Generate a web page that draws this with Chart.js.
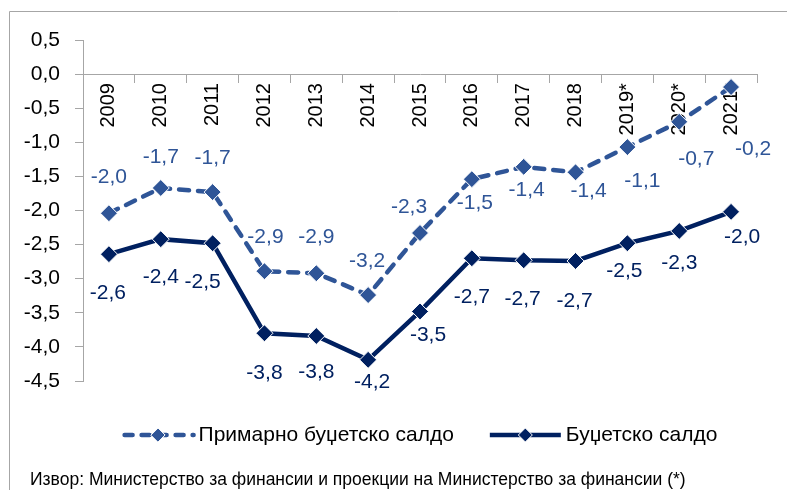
<!DOCTYPE html>
<html>
<head>
<meta charset="utf-8">
<script src="https://cdn.jsdelivr.net/npm/chart.js@4/dist/chart.umd.min.js"></script>
<style>
  html, body { margin: 0; padding: 0; background: #ffffff; }
  #wrap { width: 787px; height: 490px; position: relative; }
</style>
</head>
<body>
<div id="wrap"><canvas id="c" width="787" height="490"></canvas></div>
<script>
// ---- data ----
const categories = ['2009','2010','2011','2012','2013','2014','2015','2016','2017','2018','2019*','2020*','2021*'];
const primaryBalance = [-2.04, -1.67, -1.73, -2.89, -2.92, -3.24, -2.33, -1.54, -1.36, -1.44, -1.07, -0.70, -0.19];
const budgetBalance  = [-2.64, -2.42, -2.48, -3.80, -3.84, -4.19, -3.48, -2.70, -2.73, -2.74, -2.48, -2.30, -2.02];
const seriesNames = ['Примарно буџетско салдо', 'Буџетско салдо'];
const sourceNote = 'Извор: Министерство за финансии и проекции на Министерство за финансии (*)';
const yMin = -4.5, yMax = 0.5, yStep = 0.5;

// ---- styling ----
const FONT = "'Liberation Sans', Arial, sans-serif";
const C_PRIMARY = '#2F5597';
const C_BUDGET = '#002060';
const AXIS = '#A6A6A6';
// label offsets (px) relative to each point
const labelOffsets = [
  [[0,-36],[0,-31],[0,-34],[1,-34],[0,-36],[-1,-34],[-11,-26],[3,24],[3,23],[13,19],[15,34],[17,37],[22,62]],
  [[-1,39],[0,38],[-10,39],[0,40],[0,36],[4,22],[8,24],[0,39],[-1,39],[-1,40],[-3,28],[0,32],[11,25]]
];
const fmt = v => v.toFixed(1).replace('.', ',');

const frame = {
  id: 'frame',
  beforeDraw(chart) {
    const ctx = chart.ctx;
    ctx.save();
    ctx.strokeStyle = AXIS;
    ctx.lineWidth = 1;
    ctx.beginPath();
    ctx.moveTo(9.5, 490);
    ctx.lineTo(9.5, 11.5);
    ctx.lineTo(787, 11.5);
    ctx.stroke();
    ctx.restore();
  }
};

const valueLabels = {
  id: 'valueLabels',
  afterDatasetsDraw(chart) {
    const ctx = chart.ctx;
    ctx.save();
    ctx.font = '21px ' + FONT;
    ctx.textAlign = 'center';
    ctx.textBaseline = 'middle';
    chart.data.datasets.forEach((ds, di) => {
      const meta = chart.getDatasetMeta(di);
      ctx.fillStyle = ds.borderColor;
      meta.data.forEach((el, i) => {
        const off = labelOffsets[di][i];
        ctx.fillText(fmt(ds.data[i]), el.x + off[0], el.y + off[1]);
      });
    });
    ctx.restore();
  }
};

function drawSample(ctx, x0, y, w, color, dashed) {
  ctx.save();
  ctx.strokeStyle = color;
  ctx.lineWidth = 4.5;
  ctx.lineCap = dashed ? 'round' : 'butt';
  ctx.setLineDash(dashed ? [8, 9] : []);
  ctx.beginPath();
  ctx.moveTo(x0 + (dashed ? 2 : 0), y);
  ctx.lineTo(x0 + w, y);
  ctx.stroke();
  ctx.setLineDash([]);
  const cx = x0 + w / 2, r = 7;
  ctx.fillStyle = color;
  ctx.strokeStyle = '#ffffff';
  ctx.lineWidth = 1;
  ctx.beginPath();
  ctx.moveTo(cx - r, y); ctx.lineTo(cx, y - r); ctx.lineTo(cx + r, y); ctx.lineTo(cx, y + r);
  ctx.closePath();
  ctx.fill(); ctx.stroke();
  ctx.restore();
}

const customLegend = {
  id: 'customLegend',
  afterDraw(chart) {
    const ctx = chart.ctx;
    ctx.save();
    ctx.font = '21px ' + FONT;
    ctx.textBaseline = 'middle';
    ctx.fillStyle = '#000000';
    const sampleW = 71, gapIn = 5, gapOut = 36;
    const ds = chart.data.datasets;
    const w0 = ctx.measureText(ds[0].label).width;
    const w1 = ctx.measureText(ds[1].label).width;
    const total = sampleW + gapIn + w0 + gapOut + sampleW + gapIn + w1;
    const cx = (chart.chartArea.left + chart.chartArea.right) / 2;
    let x = cx - total / 2;
    const y = 435;
    drawSample(ctx, x, y, sampleW, ds[0].borderColor, true);
    x += sampleW + gapIn;
    ctx.textAlign = 'left';
    ctx.fillText(ds[0].label, x, y);
    x += w0 + gapOut;
    drawSample(ctx, x, y, sampleW, ds[1].borderColor, false);
    x += sampleW + gapIn;
    ctx.fillText(ds[1].label, x, y);
    // source note
    ctx.font = '17.5px ' + FONT;
    ctx.textBaseline = 'alphabetic';
    ctx.fillText(sourceNote, 30, 485);
    ctx.restore();
  }
};

new Chart(document.getElementById('c'), {
  type: 'line',
  data: {
    labels: categories,
    datasets: [
      {
        label: seriesNames[0],
        data: primaryBalance,
        borderColor: C_PRIMARY,
        backgroundColor: C_PRIMARY,
        borderWidth: 4.5,
        borderDash: [10, 9],
        borderCapStyle: 'round',
        pointStyle: 'rectRot',
        pointRadius: 8.5,
        pointHoverRadius: 8.5,
        pointBackgroundColor: C_PRIMARY,
        pointBorderColor: '#ffffff',
        pointBorderWidth: 1,
        tension: 0,
        fill: false
      },
      {
        label: seriesNames[1],
        data: budgetBalance,
        borderColor: C_BUDGET,
        backgroundColor: C_BUDGET,
        borderWidth: 4.5,
        pointStyle: 'rectRot',
        pointRadius: 8.5,
        pointHoverRadius: 8.5,
        pointBackgroundColor: C_BUDGET,
        pointBorderColor: '#ffffff',
        pointBorderWidth: 1,
        tension: 0,
        fill: false
      }
    ]
  },
  options: {
    responsive: false,
    animation: false,
    devicePixelRatio: 1,
    layout: { padding: { left: 0, top: 40, right: 30, bottom: 109 } },
    plugins: {
      legend: { display: false },
      tooltip: { enabled: false },
      title: { display: false }
    },
    scales: {
      x: {
        type: 'category',
        position: { y: 0 },
        offset: true,
        grid: { display: true, drawOnChartArea: false, drawTicks: true, tickLength: 8, offset: true, color: AXIS, lineWidth: 1 },
        border: { display: true, color: AXIS, width: 1 },
        ticks: {
          autoSkip: false,
          minRotation: 90,
          maxRotation: 90,
          padding: 1,
          color: '#000000',
          font: { family: FONT, size: 20 }
        }
      },
      y: {
        min: yMin,
        max: yMax,
        afterFit(scale) { scale.width = 83; },
        grid: { display: true, drawOnChartArea: false, drawTicks: true, tickLength: 8, color: AXIS, lineWidth: 1 },
        border: { display: true, color: AXIS, width: 1 },
        ticks: {
          stepSize: yStep,
          padding: 15,
          color: '#000000',
          font: { family: FONT, size: 21 },
          callback: v => fmt(v)
        }
      }
    }
  },
  plugins: [frame, valueLabels, customLegend]
});
</script>
</body>
</html>
